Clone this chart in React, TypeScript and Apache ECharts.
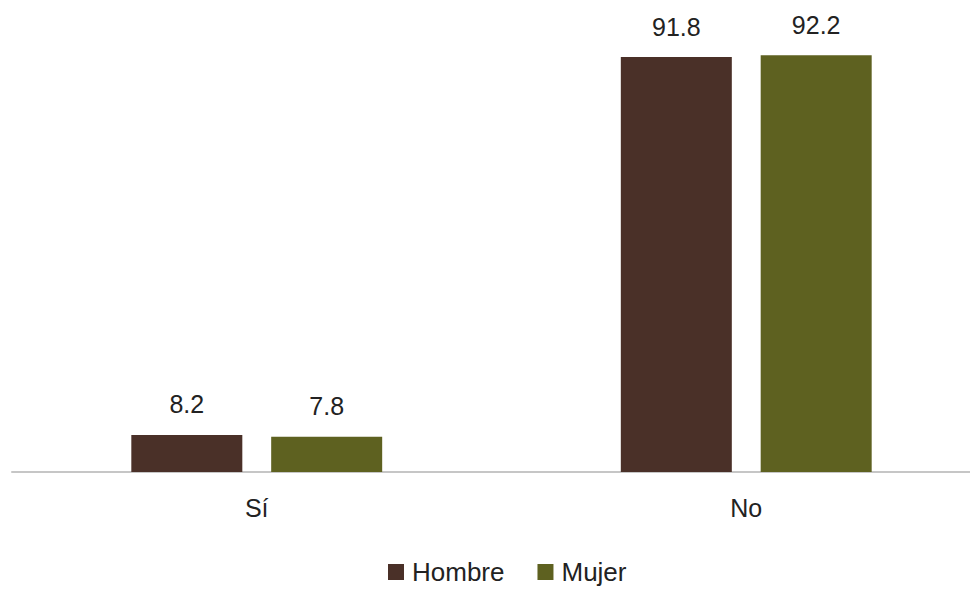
import React, { useEffect, useRef } from "react";
import * as echarts from "echarts";

const categories = ["Sí", "No"];
const hombre = [8.2, 91.8];
const mujer = [7.8, 92.2];
const seriesNames = ["Hombre", "Mujer"];

export default function App() {
  const ref = useRef<HTMLDivElement>(null);
  useEffect(() => {
    const chart = echarts.init(ref.current!, null, { renderer: "svg" });
    const font = "'Liberation Sans', Arial, sans-serif";
    const label = {
      show: true,
      position: "top" as const,
      distance: 18,
      fontSize: 25,
      color: "#222",
      fontFamily: font,
      formatter: (p: any) => p.value.toFixed(1),
    };
    chart.setOption({
      animation: false,
      textStyle: { fontFamily: font },
      grid: { left: 12, right: 9, top: 20, bottom: 118, containLabel: false },
      legend: {
        bottom: 0,
        left: 383,
        itemWidth: 16,
        itemHeight: 16,
        itemGap: 33,
        icon: "rect",
        textStyle: { fontSize: 26, color: "#222", fontFamily: font, padding: [0, 0, 0, 3] },
        data: seriesNames,
      },
      xAxis: {
        type: "category",
        data: categories,
        axisLine: { lineStyle: { color: "#c6c6c6", width: 2 } },
        axisTick: { show: false },
        axisLabel: { fontSize: 25, color: "#222", margin: 23, fontFamily: font },
      },
      yAxis: {
        type: "value",
        min: 0,
        max: 100,
        show: false,
        splitLine: { show: false },
      },
      series: [
        {
          name: seriesNames[0],
          type: "bar",
          data: hombre,
          barWidth: 111,
          barGap: "26%",
          itemStyle: { color: "#4A3028" },
          label,
        },
        {
          name: seriesNames[1],
          type: "bar",
          data: mujer,
          barWidth: 111,
          itemStyle: { color: "#5E6120" },
          label,
        },
      ],
    });
    return () => chart.dispose();
  }, []);
  return (
    <div style={{ width: 970, height: 590, position: "absolute", left: 0, top: 0, overflow: "hidden" }}>
      <div ref={ref} style={{ width: 1000, height: 590 }} />
    </div>
  );
}
